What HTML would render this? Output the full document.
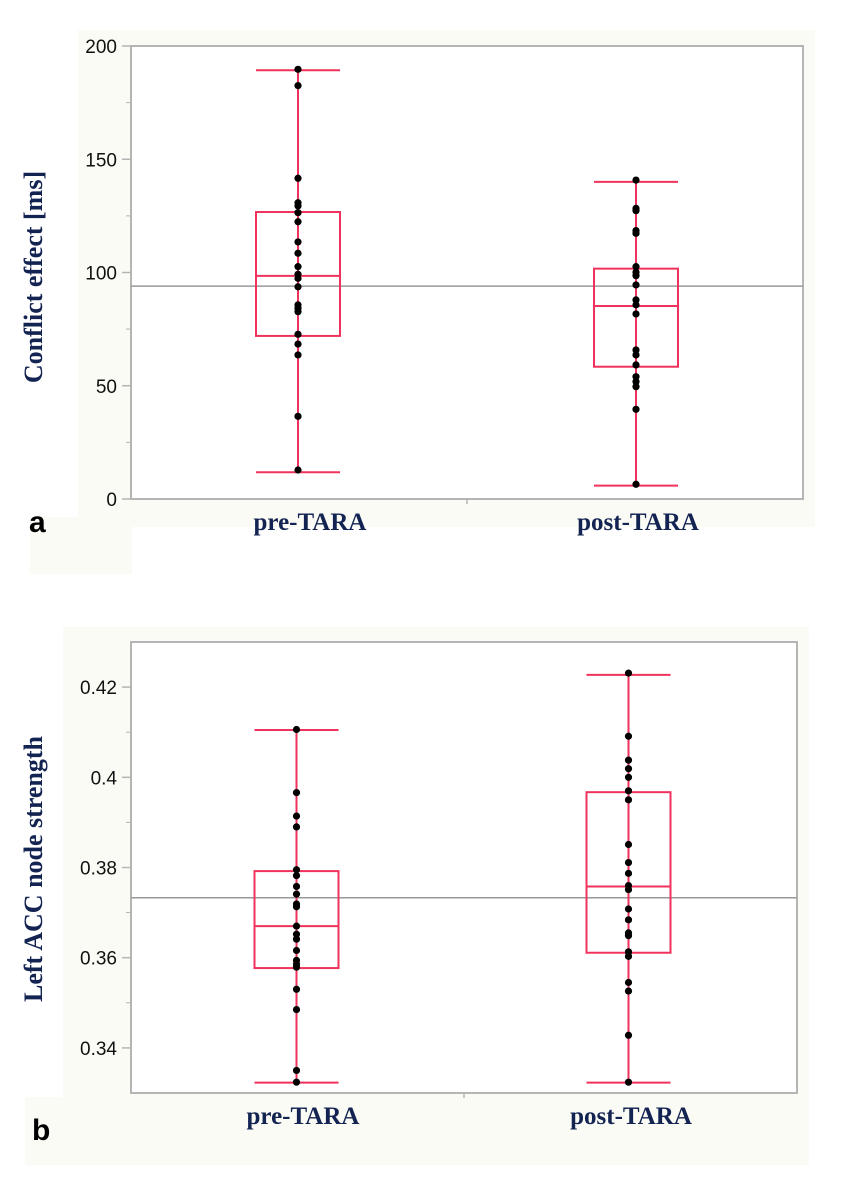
<!DOCTYPE html>
<html><head><meta charset="utf-8"><style>
html,body{margin:0;padding:0;background:#fff;}
svg{display:block;}
.tick{font-family:"Liberation Sans",sans-serif;font-size:19px;fill:#111;}
.cat{font-family:"Liberation Serif",serif;font-weight:bold;font-size:25px;fill:#142452;}
.ytitle{font-family:"Liberation Serif",serif;font-weight:bold;font-size:26px;fill:#142452;}
.letter{font-family:"Liberation Sans",sans-serif;font-weight:bold;font-size:30px;fill:#000;}
</style></head><body>
<svg id="fig" width="846" height="1185" xmlns="http://www.w3.org/2000/svg">
<rect x="78" y="30" width="737" height="497" fill="#fbfbf6"/>
<rect x="30" y="517" width="102" height="57" fill="#fbfbf6"/>
<rect x="63" y="627" width="746" height="470" fill="#fbfbf6"/>
<rect x="25" y="1097" width="784" height="68" fill="#fbfbf6"/>
</svg>
<script>
// Panel a data
const catsA = ["pre-TARA", "post-TARA"];
const ticksA = [0, 50, 100, 150, 200];
const preA = [189.7,182.5,141.6,130.8,129.4,126.4,122.4,113.5,108.5,102.6,99.2,97.4,93.7,85.7,84.2,82.7,72.7,68.4,63.6,36.5,12.8];
const postA = [140.8,128.3,127.3,118.5,117.3,102.6,100.1,98.6,94.5,87.9,85.7,81.7,65.8,63.6,59.2,54,51.8,49.6,39.6,6.5];
const boxPreA = [11.8, 72, 98.5, 126.7, 189.3];
const boxPostA = [5.9, 58.4, 85.2, 101.7, 140];
const meanA = 94.0;
// Panel b data
const catsB = ["pre-TARA", "post-TARA"];
const ticksB = [0.34, 0.36, 0.38, 0.40, 0.42];
const tickLabelsB = ["0.34", "0.36", "0.38", "0.4", "0.42"];
const preB = [0.4106,0.3966,0.3914,0.3890,0.3795,0.3782,0.3758,0.3741,0.3719,0.3713,0.3670,0.3652,0.3641,0.3616,0.3594,0.3586,0.3579,0.3530,0.3485,0.3350,0.3324];
const postB = [0.4231,0.4091,0.4038,0.4019,0.4000,0.3970,0.3950,0.3851,0.3811,0.3787,0.3760,0.3751,0.3708,0.3684,0.3655,0.3649,0.3613,0.3603,0.3545,0.3526,0.3428,0.3324];
const boxPreB = [0.3323, 0.3577, 0.3670, 0.3792, 0.4105];
const boxPostB = [0.3323, 0.3611, 0.3758, 0.3967, 0.4227];
const meanB = 0.3733;

const NS = "http://www.w3.org/2000/svg";
const svg = document.getElementById("fig");
function mk(tag, attrs, parent) {
  const e = document.createElementNS(NS, tag);
  for (const k in attrs) e.setAttribute(k, attrs[k]);
  (parent || svg).appendChild(e);
  return e;
}
const RED = "#f0325c", GRID = "#b5b5b5";

function panel(p) {
  const g = mk("g", {});
  
  
  const y = v => p.y1 - (v - p.min) / (p.max - p.min) * (p.y1 - p.y0);
  const x = i => p.x0 + (i + 0.5) / p.cats.length * (p.x1 - p.x0) + p.xoff[i];
  const fr = mk("rect", {x: p.x0, y: p.y0, width: p.x1 - p.x0, height: p.y1 - p.y0, fill: "#fff", stroke: GRID, "stroke-width": 2}, g);
  
  
  p.ticks.forEach((t, i) => {
    const ty = y(t);
    const tl = mk("line", {x1: p.x0 - 9, x2: p.x0, y1: ty, y2: ty, stroke: GRID, "stroke-width": 1.5}, g);
    
    
    const tx = mk("text", {x: p.x0 - 14, y: ty + 7, "text-anchor": "end", class: "tick"}, g);
    tx.textContent = p.labels[i];
    
    
    if (i < p.ticks.length - 1) {
      const my = y((t + p.ticks[i + 1]) / 2);
      const ml = mk("line", {x1: p.x0 - 5, x2: p.x0, y1: my, y2: my, stroke: GRID, "stroke-width": 1}, g);
      
      
    }
  });
  const mx = (p.x0 + p.x1) / 2;
  const ct = mk("line", {x1: mx, x2: mx, y1: p.y1, y2: p.y1 + 5, stroke: GRID, "stroke-width": 1.5}, g);
  
  
  const ml = mk("line", {x1: p.x0, x2: p.x1, y1: y(p.mean), y2: y(p.mean), stroke: "#999", "stroke-width": 1.5}, g);
  
  
  [p.boxPre, p.boxPost].forEach((b, i) => {
    const cx = x(i), hw = 42;
    const bg = mk("g", {}, g);
    
    
    mk("line", {x1: cx, x2: cx, y1: y(b[0]), y2: y(b[4]), stroke: RED, "stroke-width": 2}, bg);
    mk("line", {x1: cx - hw, x2: cx + hw, y1: y(b[0]), y2: y(b[0]), stroke: RED, "stroke-width": 2}, bg);
    mk("line", {x1: cx - hw, x2: cx + hw, y1: y(b[4]), y2: y(b[4]), stroke: RED, "stroke-width": 2}, bg);
    mk("rect", {x: cx - hw, y: y(b[3]), width: 2 * hw, height: y(b[1]) - y(b[3]), fill: "none", stroke: RED, "stroke-width": 2}, bg);
    mk("line", {x1: cx - hw, x2: cx + hw, y1: y(b[2]), y2: y(b[2]), stroke: RED, "stroke-width": 2}, bg);
  });
  [p.pre, p.post].forEach((arr, i) => {
    arr.forEach(v => {
      const c = mk("circle", {cx: x(i), cy: y(v), r: 3.6, fill: "#000"}, g);
      
      
    });
    const lb = mk("text", {x: p.catX[i], y: p.catY, "text-anchor": "middle", class: "cat"}, g);
    lb.textContent = p.cats[i];
    
    
  });
  const yt = mk("text", {x: 0, y: 0, "text-anchor": "middle", class: "ytitle", transform: "translate(" + (p.titleX) + "," + p.titleY + ") rotate(-90)"}, g);
  yt.textContent = p.title;
  
  
  const lt = mk("text", {x: p.letterX, y: p.letterY, class: "letter"}, g);
  lt.textContent = p.letter;
  
  
}

panel({name: "panel-a", x0: 131, x1: 803, y0: 46, y1: 499, min: 0, max: 200,
  cats: catsA, ticks: ticksA, labels: ticksA.map(String), pre: preA, post: postA,
  boxPre: boxPreA, boxPost: boxPostA, mean: meanA, xoff: [-1, 1],
  catX: [310, 638], catY: 530, title: "Conflict effect [ms]", titleX: 42, titleY: 277, letter: "a", letterX: 29, letterY: 532});
panel({name: "panel-b", x0: 131, x1: 797, y0: 642, y1: 1093, min: 0.33, max: 0.43,
  cats: catsB, ticks: ticksB, labels: tickLabelsB, pre: preB, post: postB,
  boxPre: boxPreB, boxPost: boxPostB, mean: meanB, xoff: [-1, -2],
  catX: [303, 631], catY: 1124, title: "Left ACC node strength", titleX: 42, titleY: 869, letter: "b", letterX: 32, letterY: 1140});
</script>
</body></html>
